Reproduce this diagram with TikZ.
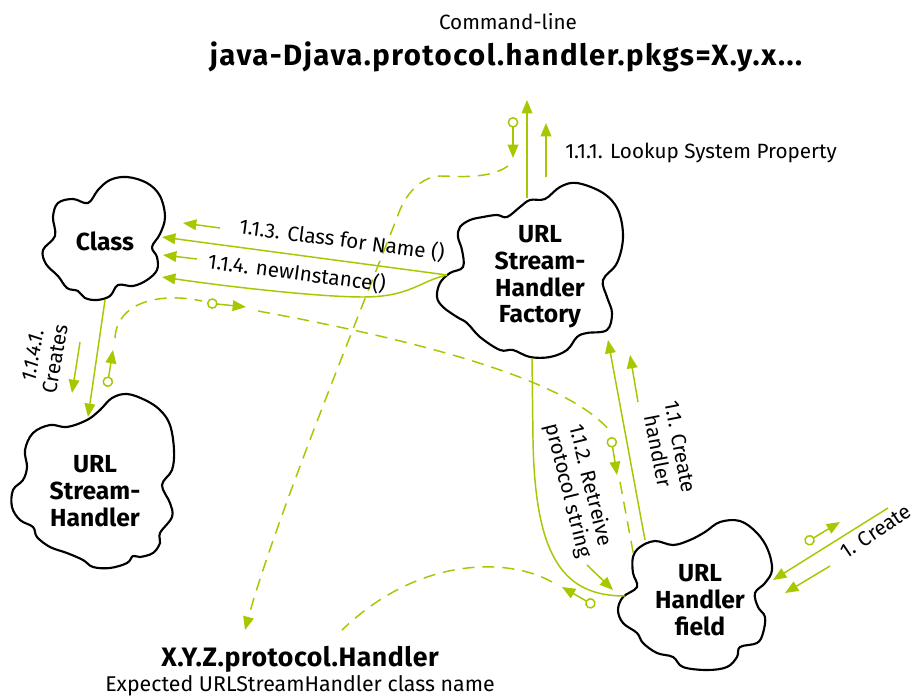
\documentclass[tikz,border=0pt]{standalone}
\usepackage{fontspec}
\setmainfont{Fira Sans}
\usetikzlibrary{arrows.meta}
\definecolor{flowgreen}{RGB}{168,199,0}

\tikzset{
  cloudline/.style={draw=black, line width=1.6pt, fill=white},
  cloudtext/.style={font=\bfseries\fontsize{18.5}{20}\selectfont, align=center, inner sep=0pt},
  lbl/.style={font=\fontsize{15.5}{17}\selectfont, align=center, inner sep=0pt},
  flowline/.style={draw=flowgreen, line width=1.1pt},
  flow/.style={flowline, -{Triangle[length=10pt,width=8pt]}},
  dashflow/.style={flowline, dash pattern=on 9pt off 6pt},
  dashflowtip/.style={dashflow, -{Triangle[length=10pt,width=8pt]}},
  marker/.style={flowline, {Circle[open,length=8pt,width=8pt]}-{Triangle[length=10pt,width=8pt]}},
}

\begin{document}
\begin{tikzpicture}[x=0.75pt,y=-0.75pt]
\path[use as bounding box, fill=white] (0,0) rectangle (917,696);

% ---- cloud outlines ----
\draw[cloudline] plot[smooth cycle, tension=0.6] coordinates {
  (43,250) (55,236) (53,217) (58,203) (73,199) (88,203) (98,190) (110,180)
  (127,177) (147,183) (160,196) (165,217) (160,234) (152,247) (157,257)
  (157,270) (147,280) (133,286) (118,285) (110,296) (97,300) (85,298)
  (78,291) (67,288) (58,276) (46,264)};
\draw[cloudline] plot[smooth cycle, tension=0.6] coordinates {
  (33,433) (50,425) (67,427) (87,420) (100,410) (112,398) (127,394)
  (145,400) (160,410) (170,425) (174,450) (172,470) (162,485) (170,503)
  (172,517) (160,533) (160,543) (153,553) (140,557) (133,556) (127,563)
  (110,568) (93,567) (83,560) (67,553) (50,547) (37,537) (33,527) (20,520)
  (12,507) (13,490) (23,480) (27,467) (25,450)};
\draw[cloudline] plot[smooth cycle, tension=0.6] coordinates {
  (443,307) (437,297) (440,283) (450,273) (463,267) (462,250) (458,237)
  (460,227) (470,220) (483,217) (497,215) (507,217) (520,207) (530,200)
  (545,199) (560,187) (577,183) (603,193) (618,210) (623,237) (617,263)
  (603,280) (607,297) (612,313) (607,330) (587,333) (577,337) (567,350)
  (550,357) (530,357) (513,350) (500,350) (480,337) (467,323) (457,317)};
\draw[cloudline] plot[smooth cycle, tension=0.6] coordinates {
  (640,547) (655,541) (673,545) (690,540) (705,532) (720,522) (740,521)
  (757,533) (768,550) (772,570) (765,583) (755,593) (758,607) (765,617)
  (763,633) (757,643) (740,647) (737,657) (727,667) (707,670) (683,667)
  (673,657) (657,653) (643,643) (637,633) (623,623) (618,610) (623,597)
  (637,587) (633,573) (633,557)};

% ---- cloud names ----
\node[cloudtext] (cls) at (105,241) {Class};
\node[cloudtext] (ush) at (95,491) {URL\\Stream-\\Handler};
\node[cloudtext] (fac) at (540,277) {URL\\Stream-\\Handler\\Factory};
\node[cloudtext] (fld) at (700,600) {URL\\Handler\\field};

% ---- headings ----
\node[font=\fontsize{15.5}{18}\selectfont] (cmd) at (508,22) {Command-line};
\node[font=\bfseries\fontsize{22}{24}\selectfont\addfontfeature{LetterSpace=5}] (prop) at (506,57)
  {java-Djava.protocol.handler.pkgs=X.y.x...};
\node[font=\bfseries\fontsize{20}{22}\selectfont\addfontfeature{LetterSpace=2}] (xyz) at (300,659) {X.Y.Z.protocol.Handler};
\node[font=\fontsize{16}{18}\selectfont] (expct) at (300,686) {Expected URLStreamHandler class name};

% ---- attachment points ----
\coordinate (facTop) at (527,198);
\coordinate (propA) at (527,100);
\coordinate (s1a) at (546,177);
\coordinate (s1b) at (546,123);
\coordinate (m1a) at (513,117);
\coordinate (m1b) at (513,158);
\coordinate (d1a) at (508,166);
\coordinate (xyzTop) at (245,630);

\coordinate (facW) at (447,275);
\coordinate (clsE1) at (162,237);
\coordinate (clsE2) at (162,277);
\coordinate (sAa) at (220,228);
\coordinate (sAb) at (183,223);
\coordinate (sBa) at (197,259);
\coordinate (sBb) at (163,255);

\coordinate (clsS) at (105,300);
\coordinate (ushN) at (88,417);
\coordinate (sCa) at (80,342);
\coordinate (sCb) at (72,393);

\coordinate (fldN) at (645,540);
\coordinate (facSE) at (608,340);
\coordinate (sDa) at (638,402);
\coordinate (sDb) at (630,355);

\coordinate (facS) at (532,358);
\coordinate (fldW) at (625,596);
\coordinate (sEa) at (587,565);
\coordinate (sEb) at (613,590);

\coordinate (m2a) at (107,387);
\coordinate (m2b) at (113,350);
\coordinate (d2a) at (115,338);
\coordinate (d2b) at (202,301);
\coordinate (m3a) at (207,303);
\coordinate (m3b) at (246,307);
\coordinate (d3a) at (258,311);
\coordinate (d3b) at (609,430);
\coordinate (m4a) at (611,437);
\coordinate (m4b) at (617,475);
\coordinate (d4a) at (620,482);
\coordinate (d4b) at (634,557);

\coordinate (m5a) at (595,606);
\coordinate (m5b) at (562,587);
\coordinate (d5a) at (552,582);
\coordinate (d5b) at (342,630);

\coordinate (extA) at (888,508);
\coordinate (fldE) at (773,580);
\coordinate (sFa) at (830,566);
\coordinate (sFb) at (785,593);
\coordinate (m6a) at (805,543);
\coordinate (m6b) at (840,522);

% ---- 1.1.1 lookup of the system property ----
\draw[flow] (facTop) -- (propA);
\draw[flow] (s1a) -- (s1b);
\node[lbl, anchor=west] (l111) at (565,153) {1.1.1. Lookup System Property};
\draw[marker] (m1a) -- (m1b);
\draw[dashflowtip] (d1a) .. controls (488,180) and (455,176) .. (440,176)
  .. controls (420,177) and (405,195) .. (398,215)
  .. controls (365,300) and (275,520) .. (xyzTop);

% ---- 1.1.3 / 1.1.4 calls on Class ----
\draw[flow] (facW) -- (clsE1);
\draw[flow] (facW) .. controls (420,281) and (410,297) .. (363,297)
  .. controls (320,297) and (230,287) .. (clsE2);
\draw[flow] (sAa) -- (sAb);
\draw[flow] (sBa) -- (sBb);
\node[lbl, rotate=-7.5] (l113) at (342,240) {1.1.3. Class for Name ()};
\node[lbl, rotate=-7.5] (l114) at (297,273) {1.1.4. newInstance()};

% ---- 1.1.4.1 Class creates the stream handler ----
\draw[flow] (clsS) -- (ushN);
\draw[flow] (sCa) -- (sCb);
\node[lbl, rotate=80] (l1141) at (44,357) {\itshape 1.1.4.1.\\Creates};

% ---- 1.1 create handler ----
\draw[flow] (fldN) -- (facSE);
\draw[flow] (sDa) -- (sDb);
\node[lbl, rotate=-79] (l11) at (669,449) {1.1. Create\\handler};

% ---- 1.1.2 retrieve protocol string ----
\draw[flowline] (facS) -- (533,440) .. controls (535,560) and (565,596) .. (fldW);
\draw[flow] (sEa) -- (sEb);
\node[lbl, rotate=-76] (l112) at (579,488) {1.1.2. Retreive\\protocol string};

% ---- handler returned along the dashed route ----
\draw[marker] (m2a) -- (m2b);
\draw[dashflow] (d2a) .. controls (117,302) and (160,292) .. (d2b);
\draw[marker] (m3a) -- (m3b);
\draw[dashflow] (d3a) .. controls (400,337) and (563,376) .. (d3b);
\draw[marker] (m4a) -- (m4b);
\draw[dashflow] (d4a) -- (d4b);

% ---- handler field to the expected class name ----
\draw[marker] (m5a) -- (m5b);
\draw[dashflow] (d5a) .. controls (510,558) and (420,555) .. (d5b);

% ---- 1. create ----
\draw[flow] (extA) -- (fldE);
\draw[flow] (sFa) -- (sFb);
\draw[marker] (m6a) -- (m6b);
\node[lbl, rotate=34, anchor=base west] (l1) at (846,560) {1. Create};
\end{tikzpicture}
\end{document}
